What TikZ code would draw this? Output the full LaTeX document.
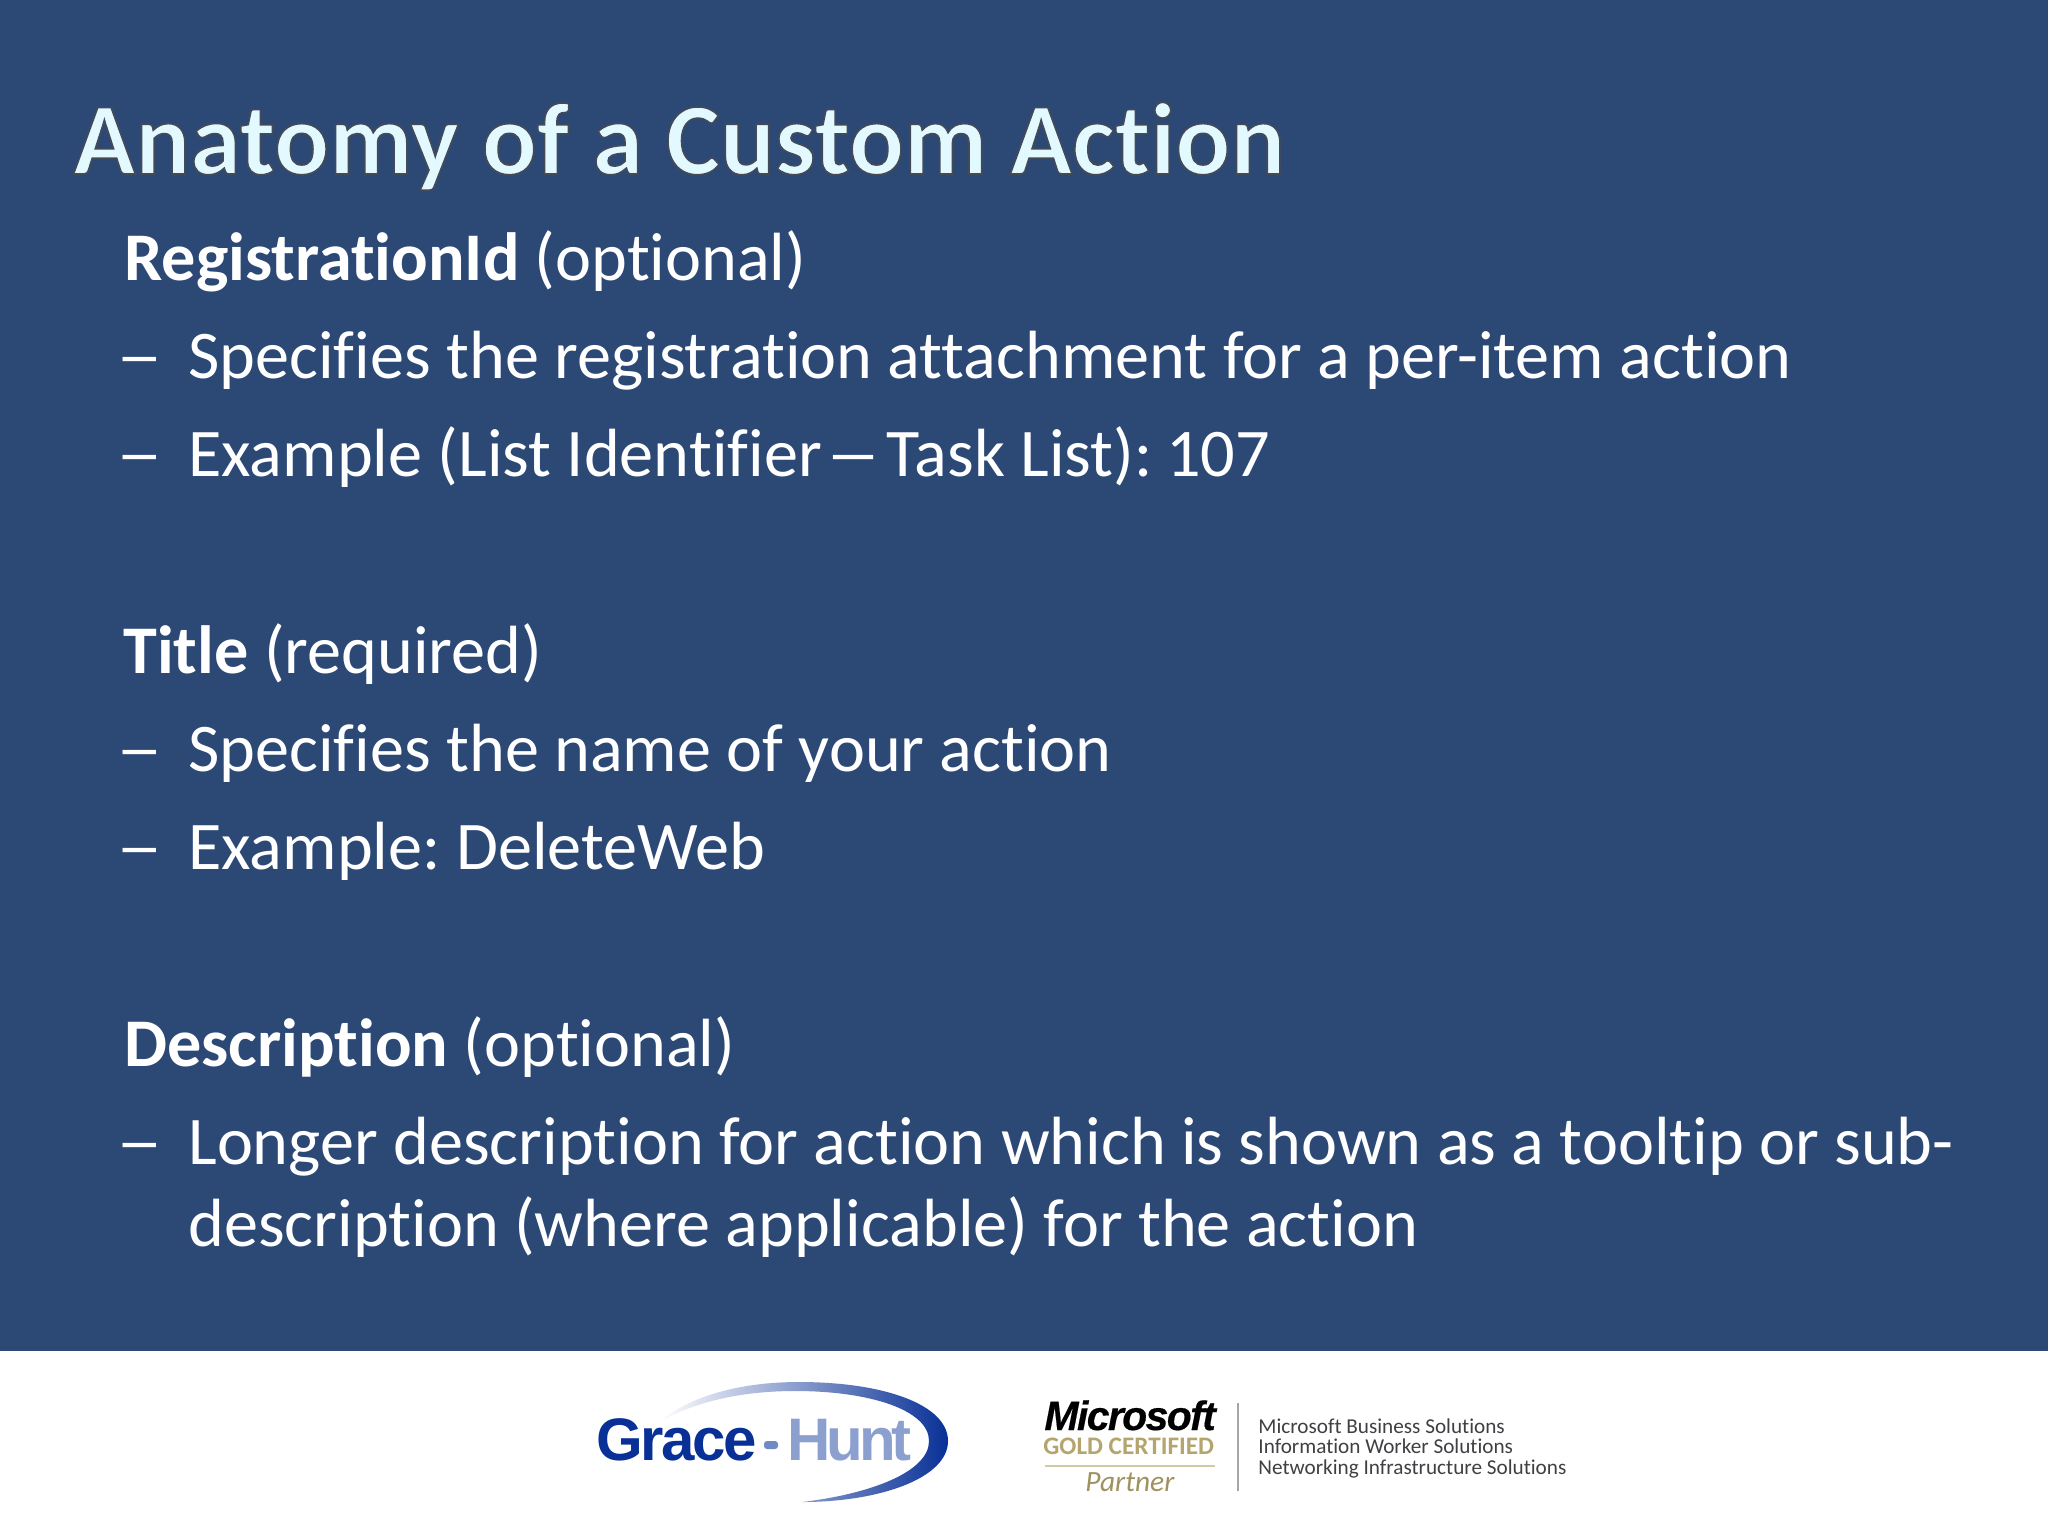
\documentclass[tikz,border=0pt]{standalone}
\usepackage{fontspec}
\setmainfont{Carlito}[Ligatures=NoCommon]
\newfontfamily\logofont{Liberation Sans}
\usetikzlibrary{shadings}
\definecolor{slidebg}{RGB}{44,73,118}
\definecolor{titlecol}{RGB}{226,250,255}
\definecolor{bodycol}{RGB}{255,255,255}
\definecolor{graceblue}{RGB}{8,48,150}
\definecolor{huntblue}{RGB}{140,160,208}
\definecolor{goldcol}{RGB}{180,165,110}
\definecolor{partnercol}{RGB}{160,146,96}
\definecolor{msgray}{RGB}{64,64,68}
\newcommand{\longdash}{{\addfontfeature{FakeStretch=1.37}–}}
\tikzset{
  pagearea/.style={x=0.5pt,y=-0.5pt},
  titletext/.style={anchor=base west,inner sep=0pt,text=titlecol,font=\bfseries\fontsize{51.1pt}{60pt}\selectfont},
  bodytext/.style={anchor=base west,inner sep=0pt,text=bodycol,font=\fontsize{34.1pt}{41pt}\selectfont},
  logotext/.style={anchor=base west,inner sep=0pt,font=\logofont\bfseries\fontsize{30pt}{30pt}\selectfont},
  mssmall/.style={anchor=base west,inner sep=0pt,text=msgray,font=\fontsize{10.6pt}{12pt}\selectfont},
}
\begin{document}
\begin{tikzpicture}[pagearea]
\useasboundingbox (0,0) rectangle (2048,1536);
\fill[slidebg] (0,0) rectangle (2048,1351);
\fill[white] (0,1351) rectangle (2048,1536);
% title
\node[titletext] (title) at (73,174) {\addfontfeature{FakeBold=1.5}\special{pdf:code 0.27 0.29 0.34 RG}Anatomy of a Custom Action};
% body
\node[bodytext] (h1) at (124,280) {\textbf{RegistrationId} (optional)};
\node[bodytext] (d1a) at (116,378) {\longdash};
\node[bodytext] (t1a) at (188,378) {Specifies the registration attachment for a per-item action};
\node[bodytext] (d1b) at (116,476) {\longdash};
\node[bodytext] (t1b) at (188,476) {Example (List Identifier\kern-6pt{} {\addfontfeature{FakeStretch=1.65}–}\kern-5pt{} Task List):\kern-3.5pt{} 107};
\node[bodytext] (h2) at (123,673) {\textbf{Title} (required)};
\node[bodytext] (d2a) at (116,771) {\longdash};
\node[bodytext] (t2a) at (188,771) {Specifies the name of your action};
\node[bodytext] (d2b) at (116,869) {\longdash};
\node[bodytext] (t2b) at (188,869) {Example:\kern-2.5pt{} DeleteWeb};
\node[bodytext] (h3) at (124,1066) {\textbf{Description} (optional)};
\node[bodytext] (d3) at (116,1164) {\longdash};
\node[bodytext] (t3a) at (188,1164) {Longer description for action which is shown as a tooltip or sub-};
\node[bodytext] (t3b) at (188,1246) {description (where applicable) for the action};
% Grace-Hunt logo
\shade[left color=white,middle color=huntblue,right color=graceblue,shading angle=90]
  (659,1422) .. controls (690,1396) and (740,1382) .. (799,1382)
  .. controls (885,1382) and (948,1405) .. (948,1441)
  .. controls (948,1478) and (880,1502) .. (802,1502)
  .. controls (870,1494) and (929,1472) .. (929,1441)
  .. controls (929,1410) and (870,1391) .. (795,1391)
  .. controls (740,1391) and (695,1402) .. (659,1422) -- cycle;
\node[logotext,text=graceblue] (grace) at (596,1460) {\addfontfeature{LetterSpace=-4}Grace};
\fill[huntblue!80!graceblue,rounded corners=1.5pt] (764,1441) rectangle (778,1449);
\node[logotext,text=huntblue] (hunt) at (787,1460) {\addfontfeature{LetterSpace=-7}Hunt};
% Microsoft partner mark
\node[anchor=base west,inner sep=0pt,text=black,font=\logofont\bfseries\itshape\fontsize{20.5pt}{21pt}\selectfont] (ms) at (1044,1430) {\addfontfeature{LetterSpace=-4,FakeBold=0.4}Microsoft};
\node[anchor=base west,inner sep=0pt,text=goldcol,font=\bfseries\fontsize{12.6pt}{13pt}\selectfont] (gold) at (1043,1454) {GOLD CERTIFIED};
\draw[goldcol!60,line width=0.6pt] (1045,1466) -- (1215,1466);
\node[anchor=base west,inner sep=0pt,text=partnercol,font=\itshape\fontsize{14.7pt}{15pt}\selectfont] (partner) at (1085,1491) {Partner};
\draw[gray!70,line width=0.7pt] (1238,1403) -- (1238,1491);
\node[mssmall] (m1) at (1258,1433) {Microsoft Business Solutions};
\node[mssmall] (m2) at (1258,1453) {Information Worker Solutions};
\node[mssmall] (m3) at (1258,1474) {Networking Infrastructure Solutions};
\end{tikzpicture}
\end{document}
